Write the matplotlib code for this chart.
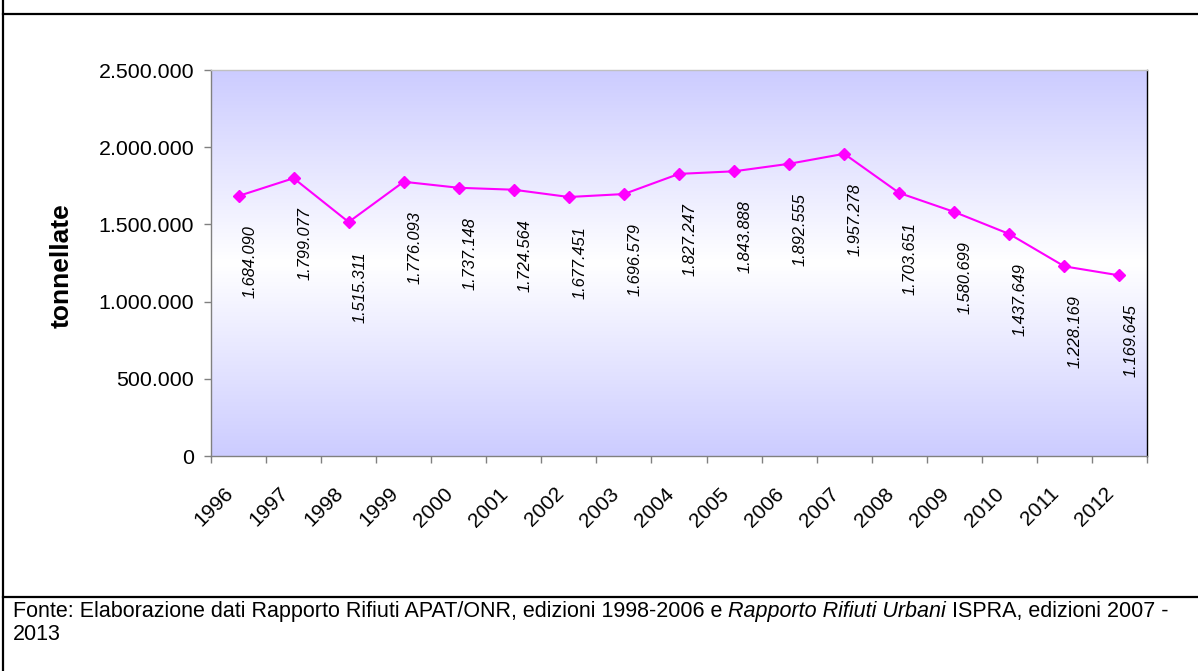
import numpy as np
import matplotlib
matplotlib.use("Agg")
import matplotlib.pyplot as plt
from matplotlib.lines import Line2D
from matplotlib.colors import LinearSegmentedColormap

years = ["1996", "1997", "1998", "1999", "2000", "2001", "2002", "2003", "2004",
         "2005", "2006", "2007", "2008", "2009", "2010", "2011", "2012"]
values = [1684090, 1799077, 1515311, 1776093, 1737148, 1724564, 1677451, 1696579,
          1827247, 1843888, 1892555, 1957278, 1703651, 1580699, 1437649, 1228169, 1169645]
yticks = [0, 500000, 1000000, 1500000, 2000000, 2500000]

def fmt(v):
    return f"{v:,}".replace(",", ".")

plt.rcParams['font.family'] = ['Liberation Sans', 'DejaVu Sans']

W, H = 1198, 671
fig = plt.figure(figsize=(W / 100, H / 100), dpi=100)

ax = fig.add_axes([211 / W, 1 - 456 / H, (1147 - 211) / W, (456 - 70) / H])

# gradient background
cmap = LinearSegmentedColormap.from_list("g", [(0.8, 0.8, 1.0), (1, 1, 1), (0.8, 0.8, 1.0)])
grad = np.linspace(0, 1, 256).reshape(-1, 1)
ax.imshow(grad, extent=[0, 1, 0, 1], transform=ax.transAxes, aspect='auto',
          cmap=cmap, zorder=0, interpolation='bicubic')

n = len(years)
x = np.arange(n)
ax.plot(x, values, color='#ff00ff', lw=1.5, marker='D', markersize=6.5,
        markerfacecolor='#ff00ff', markeredgecolor='#ff00ff', zorder=3)

ax.set_xlim(-0.5, n - 0.5)
ax.set_ylim(0, 2500000)
ax.set_yticks(yticks)
ax.set_yticklabels([fmt(v) for v in yticks], fontsize=15.4)
ax.tick_params(axis='y', length=5, width=1, color='#808080', pad=7, direction='out')

ax.set_xticks(x)
ax.set_xticklabels([])
ax.tick_params(axis='x', which='major', length=0)
ax.set_xticks(np.arange(n + 1) - 0.5, minor=True)
ax.tick_params(axis='x', which='minor', length=5, width=1, color='#808080', direction='out')

for i, yr in enumerate(years):
    ax.annotate(yr, xy=(i, 0), xycoords=('data', 'axes fraction'),
                xytext=(-6, -25), textcoords='offset points',
                rotation=45, rotation_mode='anchor', ha='right', va='center',
                fontsize=15)

for i, v in enumerate(values):
    ax.annotate(fmt(v), xy=(i, v), xytext=(8, -21), textcoords='offset points',
                rotation=90, ha='center', va='top', fontsize=11.8,
                style='italic', zorder=4)

ax.spines['left'].set_color('#808080')
ax.spines['bottom'].set_color('#808080')
ax.spines['top'].set_color('#c0c0c0')
ax.spines['right'].set_color('black')
for s in ax.spines.values():
    s.set_linewidth(1)

fig.text(62 / W, 1 - 266 / H, "tonnellate", rotation=90, ha='center', va='center',
         fontsize=19, fontweight='bold')

# frame lines
fig.add_artist(Line2D([3 / W, 1], [1 - 14 / H, 1 - 14 / H], color='black', lw=1.6,
                      transform=fig.transFigure))
fig.add_artist(Line2D([3 / W, 1], [1 - 597 / H, 1 - 597 / H], color='black', lw=1.6,
                      transform=fig.transFigure))
fig.add_artist(Line2D([3 / W, 3 / W], [0, 1], color='black', lw=1.6,
                      transform=fig.transFigure))

# source text with mixed italic
fs = 15.5
base1 = 1 - 617 / H
t1 = fig.text(13 / W, base1, "Fonte: Elaborazione dati Rapporto Rifiuti APAT/ONR, edizioni 1998-2006 e ",
              fontsize=fs, ha='left', va='baseline')
t2 = fig.text(0, base1, "Rapporto Rifiuti Urbani", fontsize=fs, style='italic', va='baseline')
t3 = fig.text(0, base1, " ISPRA, edizioni 2007 -", fontsize=fs, va='baseline')
fig.canvas.draw()
r = fig.canvas.get_renderer()
bb1 = t1.get_window_extent(r)
t2.set_x(bb1.x1 / W)
fig.canvas.draw()
bb2 = t2.get_window_extent(r)
t3.set_x(bb2.x1 / W)
fig.text(13 / W, 1 - 640 / H, "2013", fontsize=fs, ha='left', va='baseline')

fig.savefig("out.png", dpi=100)
